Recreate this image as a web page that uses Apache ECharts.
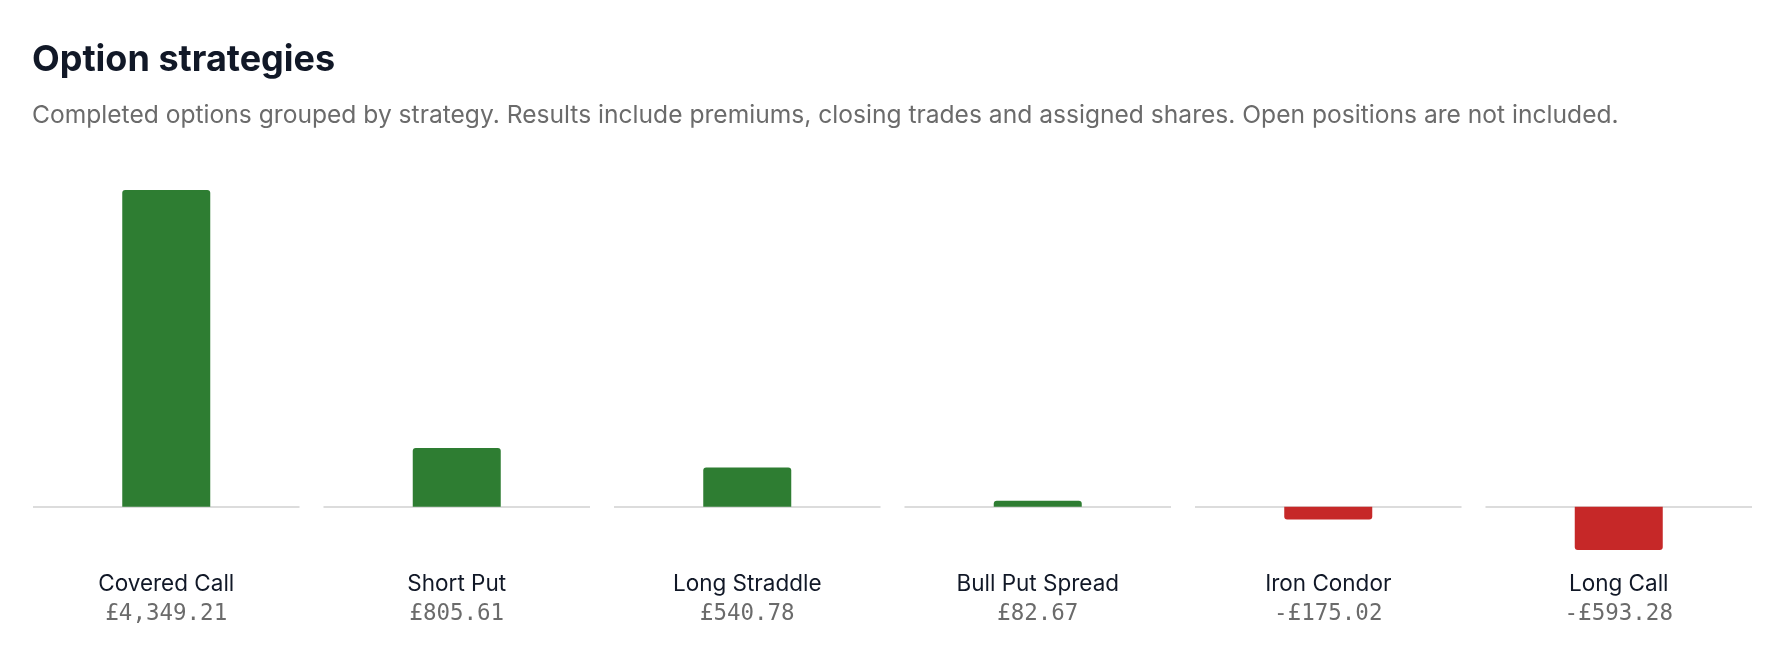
<!DOCTYPE html>
<html>
<head>
<meta charset="utf-8">
<script src="https://cdn.jsdelivr.net/npm/echarts@6/dist/echarts.min.js"></script>
<style>
html,body{margin:0;padding:0;background:#fff;}
#chart{width:1784px;height:660px;}
</style>
</head>
<body>
<div id="chart"></div>
<script>
const categories = ['Covered Call', 'Short Put', 'Long Straddle', 'Bull Put Spread', 'Iron Condor', 'Long Call'];
const values = [4349.21, 805.61, 540.78, 82.67, -175.02, -593.28];
const valueLabels = ['£4,349.21', '£805.61', '£540.78', '£82.67', '-£175.02', '-£593.28'];
const titleText = 'Option strategies';
const subtitleText = 'Completed options grouped by strategy. Results include premiums, closing trades and assigned shares. Open positions are not included.';

const GREEN = '#2e7d32', RED = '#c62828';
const minV = Math.min(...values), maxV = Math.max(...values);
const colLeft = 33, colWidth = 266.5, colGap = 24;

const grids = [], xAxes = [], yAxes = [], series = [];
categories.forEach((c, i) => {
  grids.push({ left: colLeft + i * (colWidth + colGap), width: colWidth, top: 190, bottom: 110 });
  xAxes.push({
    type: 'category', gridIndex: i, data: [c],
    axisLine: { show: false }, axisTick: { show: false }, splitLine: { show: false },
    axisLabel: {
      margin: 19, interval: 0,
      formatter: () => '{n|' + c + '}\n{v|' + valueLabels[i] + '}',
      rich: {
        n: { fontFamily: 'Inter', fontSize: 22.5, color: '#111827', lineHeight: 30 },
        v: { fontFamily: 'DejaVu Sans Mono', fontSize: 22.5, color: '#6b6b6b', lineHeight: 31 }
      }
    }
  });
  yAxes.push({ type: 'value', gridIndex: i, min: minV, max: maxV, show: false });
  const v = values[i];
  series.push({
    type: 'bar', xAxisIndex: i, yAxisIndex: i, barWidth: 88,
    data: [{ value: v, itemStyle: { color: v >= 0 ? GREEN : RED, borderRadius: v >= 0 ? [3, 3, 0, 0] : [0, 0, 3, 3] } }],
    silent: true,
    markLine: {
      silent: true, symbol: 'none', label: { show: false },
      lineStyle: { color: '#dcdcdc', width: 2, type: 'solid' },
      data: [{ yAxis: 0 }], z: 1
    }
  });
});

const chart = echarts.init(document.getElementById('chart'), null, { renderer: 'canvas' });
chart.setOption({
  animation: false,
  backgroundColor: '#ffffff',
  title: {
    text: titleText, subtext: subtitleText, left: 27, top: 37, itemGap: 25,
    textStyle: { fontFamily: 'Inter', fontSize: 36, fontWeight: 700, color: '#111827' },
    subtextStyle: { fontFamily: 'Inter', fontSize: 24.6, color: '#6b6b6b' }
  },
  grid: grids, xAxis: xAxes, yAxis: yAxes, series: series
});
</script>
</body>
</html>
